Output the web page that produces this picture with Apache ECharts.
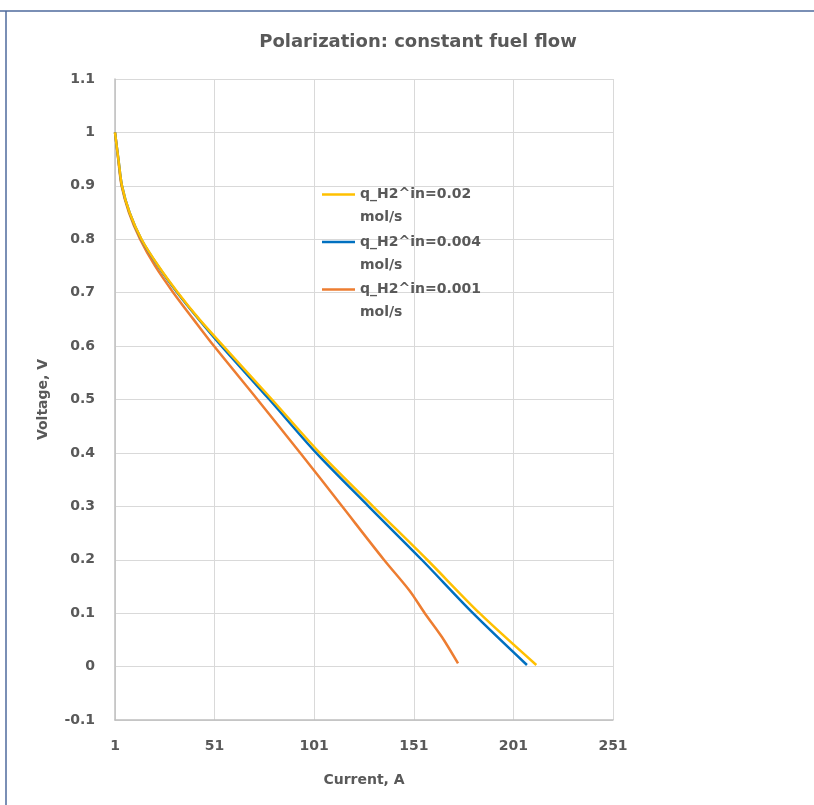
<!DOCTYPE html>
<html>
<head>
<meta charset="utf-8">
<script src="https://cdn.jsdelivr.net/npm/echarts@6/dist/echarts.min.js"></script>
<style>
  html, body { margin: 0; padding: 0; background: #fff; }
  #chart { width: 814px; height: 805px; }
</style>
</head>
<body>
<div id="chart"></div>
<script>
// ---- data ----
const seriesNames = ['q_H2^in=0.02 mol/s', 'q_H2^in=0.004 mol/s', 'q_H2^in=0.001 mol/s'];

const currentA = [1, 2.7, 4.5, 8.3, 14.3, 22.8, 32.6, 43.4, 55.4, 79.8, 103.8, 130.5, 157.7, 184, 212.5];
const voltageA = [1.0, 0.95, 0.9, 0.85, 0.8, 0.75, 0.7, 0.65, 0.6, 0.5, 0.4, 0.3, 0.2, 0.1, 0.003];

const currentB = [1, 2.7, 4.5, 8.3, 14.2, 22.6, 32.3, 43.1, 54.5, 78.5, 102, 128.3, 155, 180.7, 207.8];
const voltageB = [1.0, 0.95, 0.9, 0.85, 0.8, 0.75, 0.7, 0.65, 0.6, 0.5, 0.4, 0.3, 0.2, 0.1, 0.003];

const currentC = [1, 2.6, 4.3, 8.0, 13.6, 21.1, 30.3, 40.4, 50.7, 72.5, 94, 115, 136, 148.9, 156.5, 165.2, 173.2];
const voltageC = [1.0, 0.95, 0.9, 0.85, 0.8, 0.75, 0.7, 0.65, 0.6, 0.5, 0.4, 0.3, 0.2, 0.142, 0.1, 0.055, 0.006];

const xTicks = { min: 1, max: 251, interval: 50 };
const yTicks = { min: -0.1, max: 1.1, interval: 0.1 };

// ---- chart ----
const zip = (xs, ys) => xs.map((x, i) => [x, ys[i]]);
const colors = ['#FFC000', '#0070C0', '#ED7D31'];
const dataSets = [zip(currentA, voltageA), zip(currentB, voltageB), zip(currentC, voltageC)];
const txt = '#595959';
const font = 'DejaVu Sans';

const chart = echarts.init(document.getElementById('chart'), null, { renderer: 'canvas' });
chart.setOption({
  backgroundColor: '#fff',
  animation: false,
  title: {
    text: 'Polarization: constant fuel flow',
    left: 418, top: 33, padding: 0,
    textAlign: 'center',
    textStyle: { fontFamily: font, fontWeight: 'bold', fontSize: 18, color: txt }
  },
  graphic: [
    { type: 'line', shape: { x1: 0, y1: 11, x2: 814, y2: 11 }, style: { stroke: '#4e6a9c', lineWidth: 1.5 } },
    { type: 'line', shape: { x1: 6, y1: 11, x2: 6, y2: 805 }, style: { stroke: '#4e6a9c', lineWidth: 1.5 } }
  ],
  legend: {
    orient: 'vertical',
    left: 322, top: 160, padding: 0,
    itemGap: -21.5,
    icon: 'rect',
    itemWidth: 33, itemHeight: 2.5,
    data: seriesNames,
    formatter: n => '\n' + n.replace(' ', '\n'),
    textStyle: { fontFamily: font, fontWeight: 'bold', fontSize: 14, color: txt, lineHeight: 23 }
  },
  grid: { left: 115, right: 201, top: 79, bottom: 85 },
  xAxis: {
    type: 'value',
    min: xTicks.min, max: xTicks.max, interval: xTicks.interval,
    name: 'Current, A', nameLocation: 'middle', nameGap: 53,
    nameTextStyle: { fontFamily: font, fontWeight: 'bold', fontSize: 14, color: txt },
    axisLine: { show: true, onZero: false, lineStyle: { color: '#bfbfbf', width: 1.5 } },
    axisTick: { show: false },
    axisLabel: { margin: 19, fontFamily: font, fontWeight: 'bold', fontSize: 14, color: txt, formatter: v => String(Math.round(v)) },
    splitLine: { show: true, lineStyle: { color: '#d9d9d9', width: 1 } }
  },
  yAxis: {
    type: 'value',
    min: yTicks.min, max: yTicks.max, interval: yTicks.interval,
    name: 'Voltage, V', nameLocation: 'middle', nameGap: 65, nameRotate: 90,
    nameTextStyle: { fontFamily: font, fontWeight: 'bold', fontSize: 14, color: txt },
    axisLine: { show: true, lineStyle: { color: '#bfbfbf', width: 1.5 } },
    axisTick: { show: false },
    axisLabel: { margin: 20, fontFamily: font, fontWeight: 'bold', fontSize: 14, color: txt,
      formatter: v => String(Math.round(v * 10) / 10) },
    splitLine: { show: true, lineStyle: { color: '#d9d9d9', width: 1 } }
  },
  series: seriesNames.map((name, i) => ({
    name,
    type: 'line',
    data: dataSets[i],
    symbol: 'none',
    smooth: 0.3,
    color: colors[i],
    lineStyle: { color: colors[i], width: 2.5 },
    z: 3 - i
  }))
});
</script>
</body>
</html>
